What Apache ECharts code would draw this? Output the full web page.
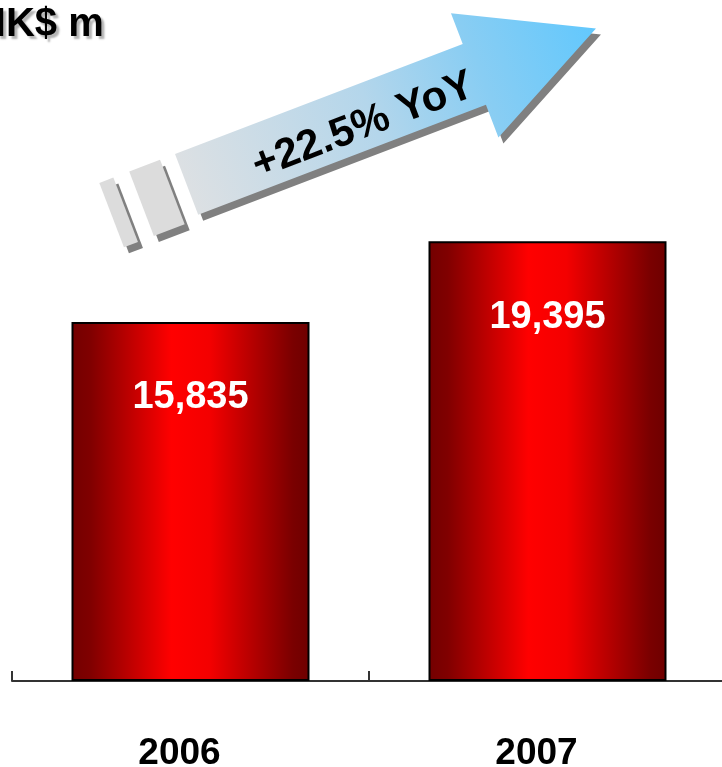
<!DOCTYPE html>
<html>
<head>
<meta charset="utf-8">
<script src="https://cdn.jsdelivr.net/npm/echarts@6/dist/echarts.min.js"></script>
<style>
  html, body { margin: 0; padding: 0; background: #fff; }
  #chart { width: 722px; height: 767px; }
</style>
</head>
<body>
<div id="chart"></div>
<script>
// Annual figures in HK$ millions
const categories = ['2006', '2007'];
const revenue = [15835, 19395];
const unitLabel = 'HK$ m';

const FONT = '"Liberation Sans", Arial, Helvetica, sans-serif';

// Year-on-year growth shown on the arrow
const growthPct = ((revenue[1] / revenue[0] - 1) * 100).toFixed(1);
const growthText = '+' + growthPct + '% YoY';

const barGradient = {
  type: 'linear', x: 0, y: 0, x2: 1, y2: 0,
  colorStops: [
    { offset: 0, color: '#730000' },
    { offset: 0.08, color: '#800000' },
    { offset: 0.42, color: '#ff0000' },
    { offset: 0.58, color: '#f40000' },
    { offset: 0.93, color: '#7a0000' },
    { offset: 1, color: '#6e0000' }
  ]
};

const arrowGradient = {
  type: 'linear', x: 0, y: 0, x2: 1, y2: 0,
  colorStops: [
    { offset: 0, color: '#dce0e3' },
    { offset: 0.45, color: '#b4d6eb' },
    { offset: 0.72, color: '#88cdf3' },
    { offset: 1, color: '#62c8fd' }
  ]
};

// Arrow outline in its own rotated frame (u along the arrow, v across it)
const arrowShape = [[0, 0], [308, 0], [308, -33], [438, 33], [308, 100], [308, 65], [0, 65]];
const arrowAngle = 20.9 * Math.PI / 180;

function arrowParts(fillBody, fillStub, withText) {
  const parts = [
    { type: 'rect', shape: { x: -81, y: 0, width: 15, height: 69 }, style: { fill: fillStub } },
    { type: 'rect', shape: { x: -49, y: 0, width: 33, height: 69 }, style: { fill: fillStub } },
    { type: 'polygon', shape: { points: arrowShape }, style: { fill: fillBody } }
  ];
  if (withText) {
    parts.push({
      type: 'text', x: 186, y: 41,
      style: {
        text: growthText,
        align: 'center', verticalAlign: 'middle',
        fontSize: 42, fontWeight: 'bold', fontFamily: FONT,
        fill: '#000',
        textShadowColor: '#ffffff', textShadowOffsetX: 2, textShadowOffsetY: 2, textShadowBlur: 0
      }
    });
  }
  return parts;
}

const chart = echarts.init(document.getElementById('chart'), null, { renderer: 'canvas' });

chart.setOption({
  animation: false,
  backgroundColor: '#ffffff',
  grid: { left: 12, right: -4, top: 3, bottom: 86, containLabel: false, outerBoundsMode: 'none' },
  xAxis: {
    type: 'category',
    data: categories,
    axisLine: { show: true, lineStyle: { color: '#333', width: 2 } },
    axisTick: { show: true, inside: true, length: 10, lineStyle: { color: '#333', width: 2 } },
    axisLabel: {
      margin: 54,
      fontSize: 37, fontWeight: 'bold', fontFamily: FONT, color: '#000',
      padding: [0, 22, 0, 0]
    },
    splitLine: { show: false }
  },
  yAxis: {
    type: 'value', min: 0, max: 29900, show: false,
    splitLine: { show: false }
  },
  series: [{
    type: 'bar',
    data: revenue,
    barWidth: 238,
    itemStyle: { color: barGradient, borderColor: '#000', borderWidth: 2 },
    label: {
      show: true,
      position: 'insideTop',
      distance: 57,
      formatter: p => p.value.toLocaleString('en-US'),
      fontSize: 38, fontWeight: 'bold', fontFamily: FONT, color: '#fff'
    }
  }],
  graphic: [
    {
      type: 'text', x: -23, y: 5,
      style: {
        text: unitLabel,
        fontSize: 40, fontWeight: 'bold', fontFamily: FONT, fill: '#000',
        lineHeight: 40,
        textShadowColor: 'rgba(0,0,0,0.3)', textShadowOffsetX: 3, textShadowOffsetY: 3, textShadowBlur: 2
      }
    },
    // drop shadow of the arrow
    { type: 'group', x: 180, y: 160, rotation: arrowAngle, children: arrowParts('#808080', '#808080', false) },
    { type: 'group', x: 175, y: 154, rotation: arrowAngle, children: arrowParts(arrowGradient, '#dcdcdc', true) }
  ]
});
</script>
</body>
</html>
